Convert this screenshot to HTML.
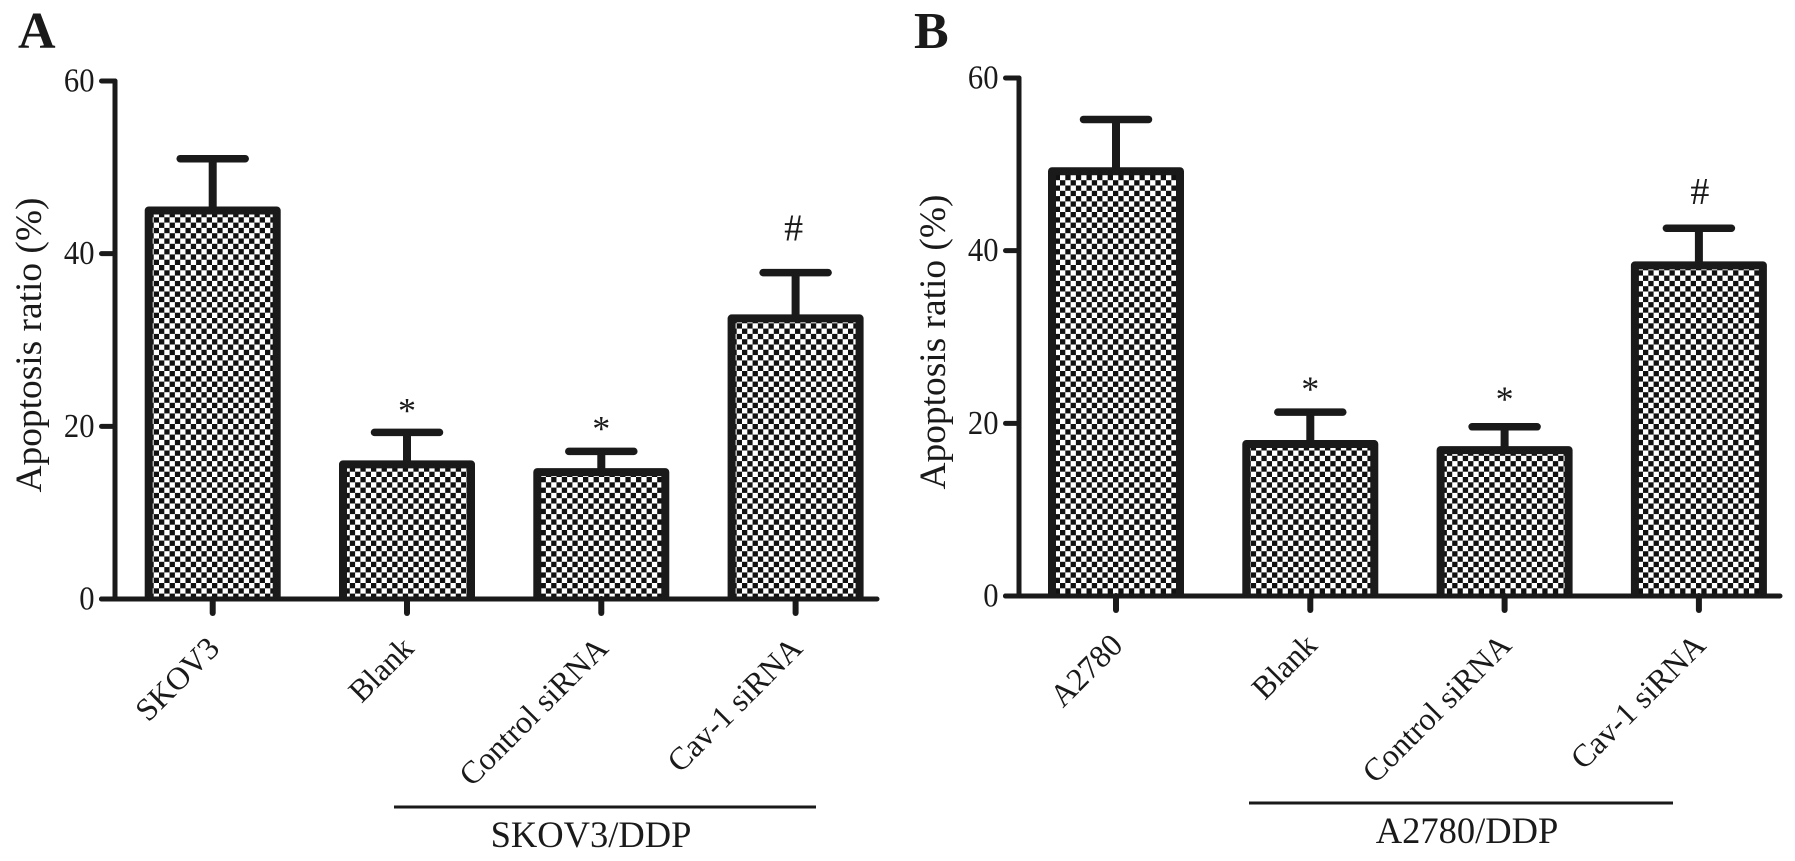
<!DOCTYPE html>
<html>
<head>
<meta charset="utf-8">
<title>Apoptosis ratio</title>
<style>
html,body{margin:0;padding:0;background:#fff;width:1795px;height:861px;overflow:hidden}
svg{display:block}
text{font-family:"Liberation Serif",serif;fill:#1a1a1a}
</style>
</head>
<body>
<svg id="chart" xmlns="http://www.w3.org/2000/svg" width="1795" height="861" viewBox="0 0 1795 861">
<defs>
<pattern id="checker" width="10.6" height="10.6" patternUnits="userSpaceOnUse">
<rect width="10.6" height="10.6" fill="#fff"/>
<rect width="5.3" height="5.3" fill="#111"/>
<rect x="5.3" y="5.3" width="5.3" height="5.3" fill="#111"/>
</pattern>
</defs>
</svg>
<script>
const yTicks = [0, 20, 40, 60];
const categoriesA = ["SKOV3", "Blank", "Control siRNA", "Cav-1 siRNA"];
const valuesA = [45.0, 15.6, 14.7, 32.5];
const errorTopsA = [51.0, 19.3, 17.1, 37.8];
const marksA = ["", "*", "*", "#"];
const categoriesB = ["A2780", "Blank", "Control siRNA", "Cav-1 siRNA"];
const valuesB = [49.2, 17.6, 16.9, 38.3];
const errorTopsB = [55.2, 21.3, 19.6, 42.6];
const marksB = ["", "*", "*", "#"];

const svg = document.getElementById('chart');
const NS = 'http://www.w3.org/2000/svg';
const INK = '#1a1a1a';

function make(tag, attrs, parent) {
  const el = document.createElementNS(NS, tag);
  for (const k in attrs) el.setAttribute(k, attrs[k]);
  parent.appendChild(el);
  return el;
}
function line(x1, y1, x2, y2, w, cap, parent) {
  return make('line', {x1, y1, x2, y2, stroke: INK, 'stroke-width': w, 'stroke-linecap': cap}, parent);
}

function drawPanel(cfg) {
  const yScale = v => cfg.y0 + (cfg.y60 - cfg.y0) * v / 60;
  const xScale = i => cfg.firstX + cfg.step * i;

  const g = make('g', {}, svg);
  
  

  const letter = make('text', {x: cfg.letterX, y: 48, 'font-size': 52, 'font-weight': 'bold'}, g);
  letter.textContent = cfg.letter;
  
  

  cfg.values.forEach((v, i) => {
    const cx = xScale(i);
    const top = yScale(v);
    const errTop = yScale(cfg.errors[i]);

    const stem = line(cx, top, cx, errTop, 8, 'butt', g);
    
    

    const cap = line(cx - 32.5, errTop, cx + 32.5, errTop, 7.5, 'round', g);
    
    

    const fill = make('rect', {x: cx - 64, y: top, width: 128, height: cfg.y0 - top, fill: 'url(#checker)'}, g);
    
    

    const bar = make('path', {
      d: 'M' + (cx - 64) + ' ' + cfg.y0 + 'V' + top + 'H' + (cx + 64) + 'V' + cfg.y0,
      fill: 'none', stroke: INK, 'stroke-width': 8, 'stroke-linejoin': 'round'
    }, g);
    
    

    const tick = line(cx, cfg.y0, cx, cfg.y0 + 14, 6, 'round', g);
    
    

    const label = make('text', {
      x: 0, y: 0, 'font-size': 32, 'text-anchor': 'end',
      transform: 'translate(' + (cx + 8.5) + ',' + (cfg.y0 + 51) + ') rotate(-45)'
    }, g);
    label.textContent = cfg.categories[i];
    
    

    if (cfg.marks[i]) {
      const isHash = cfg.marks[i] === '#';
      const offset = isHash ? cfg.hashOffset : cfg.starOffsets[i];
      const m = make('text', {x: cx + (isHash ? cfg.hashShift : 0), y: errTop - offset, 'font-size': isHash ? 38 : 36, 'text-anchor': 'middle'}, g);
      m.textContent = cfg.marks[i];
      
      
    }
  });

  const yAxis = line(cfg.axisX, yScale(60), cfg.axisX, cfg.y0, 5, 'round', g);
  
  

  const xAxis = line(cfg.axisX - 13.5, cfg.y0, cfg.axisEnd, cfg.y0, 5, 'round', g);
  
  

  yTicks.forEach(t => {
    const tick = line(cfg.axisX - 13.5, yScale(t), cfg.axisX, yScale(t), 5, 'round', g);
    
    

    const lab = make('text', {
      x: 0, y: 0, 'font-size': 34, 'text-anchor': 'end',
      transform: 'translate(' + (cfg.axisX - 20.5) + ',' + (yScale(t) + 10.5) + ') scale(0.9,1)'
    }, g);
    lab.textContent = t;
    
    
  });

  const title = make('text', {
    x: 0, y: 0, 'font-size': 37.4, 'text-anchor': 'middle',
    transform: 'translate(' + cfg.titleX + ',' + cfg.titleY + ') rotate(-90)'
  }, g);
  title.textContent = 'Apoptosis ratio (%)';
  
  

  const rule = line(cfg.ruleX1, cfg.ruleY, cfg.ruleX2, cfg.ruleY, 3, 'butt', g);
  
  

  const group = make('text', {x: cfg.groupX, y: cfg.ruleY + 40, 'font-size': cfg.groupSize, 'text-anchor': 'middle'}, g);
  group.textContent = cfg.group;
  
  
}

drawPanel({
  name: 'panel-a', letter: 'A', letterX: 18,
  categories: categoriesA, values: valuesA, errors: errorTopsA, marks: marksA,
  y0: 599, y60: 81, firstX: 212.7, step: 194.3, axisX: 115, axisEnd: 877,
  titleX: 41, titleY: 345, hashOffset: 32, hashShift: -2, starOffsets: [0, 10, 11, 0],
  ruleX1: 394, ruleX2: 816, ruleY: 807, group: 'SKOV3/DDP', groupSize: 36.5, groupX: 591
});
drawPanel({
  name: 'panel-b', letter: 'B', letterX: 914,
  categories: categoriesB, values: valuesB, errors: errorTopsB, marks: marksB,
  y0: 596, y60: 78, firstX: 1116, step: 194.3, axisX: 1019, axisEnd: 1780,
  titleX: 945, titleY: 342, hashOffset: 24, hashShift: 1, starOffsets: [0, 11, 16, 0],
  ruleX1: 1249, ruleX2: 1673, ruleY: 803, group: 'A2780/DDP', groupSize: 36.5, groupX: 1467
});
</script>
</body>
</html>
